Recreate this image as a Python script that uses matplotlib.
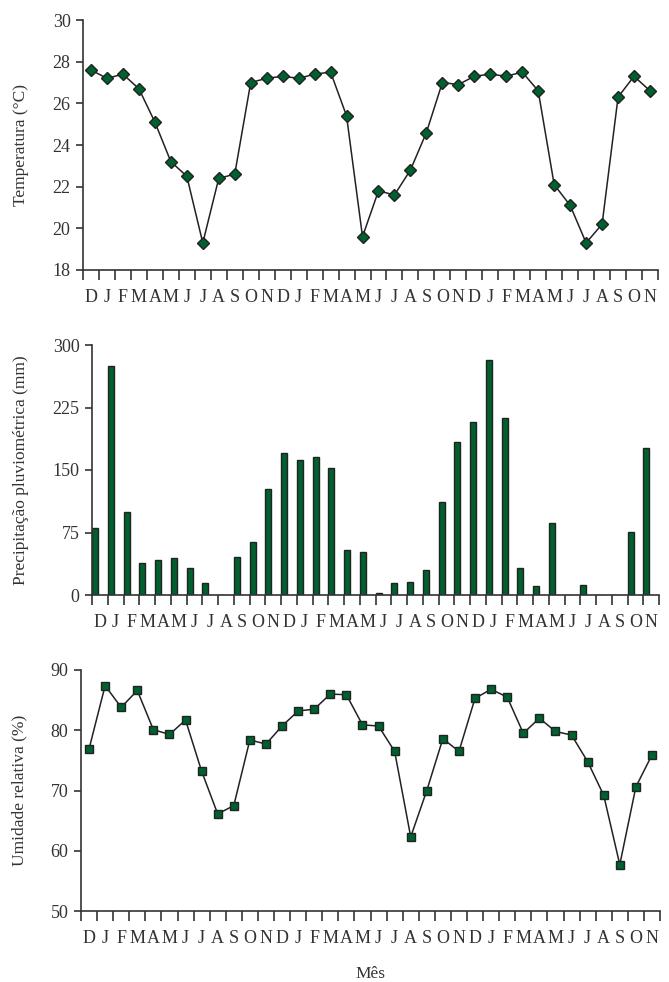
import matplotlib
matplotlib.use("Agg")
import matplotlib.pyplot as plt
import numpy as np

months = ["D", "J", "F", "M", "A", "M", "J", "J", "A", "S", "O", "N",
          "D", "J", "F", "M", "A", "M", "J", "J", "A", "S", "O", "N",
          "D", "J", "F", "M", "A", "M", "J", "J", "A", "S", "O", "N"]

temperature = [27.6, 27.2, 27.4, 26.7, 25.1, 23.2, 22.5, 19.3, 22.4, 22.6, 27.0, 27.2,
               27.3, 27.2, 27.4, 27.5, 25.4, 19.6, 21.8, 21.6, 22.8, 24.6, 27.0, 26.9,
               27.3, 27.4, 27.3, 27.5, 26.6, 22.1, 21.1, 19.3, 20.2, 26.3, 27.3, 26.6]

precipitation = [80, 275, 100, 38, 42, 44, 33, 15, 0, 46, 64, 127,
                 171, 162, 166, 152, 54, 52, 3, 14, 16, 30, 112, 184,
                 208, 282, 212, 32, 11, 86, 0, 12, 0, 0, 76, 177]

humidity = [76.9, 87.4, 83.8, 86.6, 80.1, 79.3, 81.7, 73.2, 66.1, 67.5, 78.4, 77.7,
            80.7, 83.2, 83.5, 86.0, 85.9, 80.9, 80.7, 76.5, 62.3, 70.0, 78.6, 76.5,
            85.3, 86.8, 85.5, 79.5, 82.0, 79.8, 79.2, 74.8, 69.2, 57.7, 70.6, 75.9]

plt.rcParams['font.family'] = ['Liberation Serif', 'DejaVu Serif']
TXT = '#333333'
GREEN = '#00602e'
EDGE = '#222222'
FS = 13

fig = plt.figure(figsize=(6.69, 9.82), dpi=100)

n = len(months)
centers = np.arange(n) + 0.5

def style(ax, yticks, ylabel):
    for s in ['top', 'right']:
        ax.spines[s].set_visible(False)
    for s in ['left', 'bottom']:
        ax.spines[s].set_color(TXT)
        ax.spines[s].set_linewidth(1.2)
    ax.set_xlim(0, n)
    ax.set_xticks(np.arange(n + 1))
    ax.set_xticklabels([])
    ax.set_xticks(centers, minor=True)
    ax.set_xticklabels(months, minor=True, fontsize=FS, color=TXT)
    ax.tick_params(axis='x', which='major', length=7, width=1.2, color=TXT, direction='out')
    ax.tick_params(axis='x', which='minor', length=0, pad=14)
    ax.set_yticks(yticks)
    ax.set_yticklabels([str(t) for t in yticks], fontsize=FS, color=TXT)
    ax.tick_params(axis='y', length=5, width=1.2, color=TXT, direction='out', pad=4)
    ax.set_ylabel(ylabel, fontsize=FS - 0.5, color=TXT)

# Temperature
ax1 = fig.add_axes([83/669, 1-270/982, (658-83)/669, 250/982])
ax1.plot(centers, temperature, color=EDGE, lw=1.1, marker='D', ms=6,
         mfc=GREEN, mec=EDGE, mew=1.0, clip_on=False)
ax1.set_ylim(18, 30)
style(ax1, [18, 20, 22, 24, 26, 28, 30], 'Temperatura (°C)')
ax1.yaxis.set_label_coords(-0.094, 0.5)

# Precipitation
ax2 = fig.add_axes([92/669, 1-595/982, (659-92)/669, 250/982])
ax2.bar(np.arange(n) + 0.2, precipitation, width=0.38, color=GREEN,
        edgecolor=EDGE, linewidth=1.0)
ax2.set_ylim(0, 300)
style(ax2, [0, 75, 150, 225, 300], 'Precipitação pluviométrica (mm)')
ax2.yaxis.set_label_coords(-0.111, 0.5)

# Humidity
ax3 = fig.add_axes([81/669, 1-911/982, (660-81)/669, 241/982])
ax3.plot(centers, humidity, color=EDGE, lw=1.1, marker='s', ms=6,
         mfc=GREEN, mec=EDGE, mew=1.0, clip_on=False)
ax3.set_ylim(50, 90)
style(ax3, [50, 60, 70, 80, 90], 'Umidade relativa (%)')
ax3.yaxis.set_label_coords(-0.093, 0.5)
ax3.set_xlabel('Mês', fontsize=FS - 0.5, color=TXT, labelpad=13)

fig.savefig('out.png', dpi=100)
